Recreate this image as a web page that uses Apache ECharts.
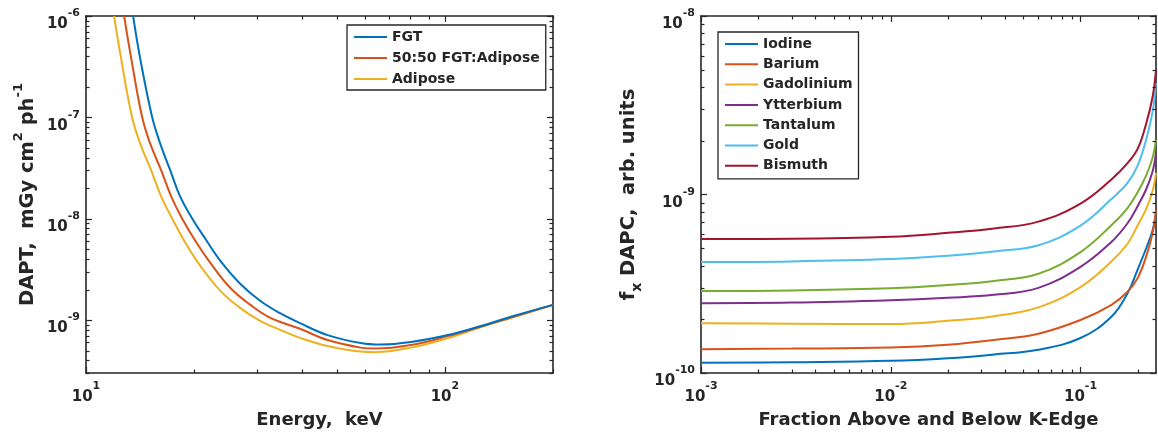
<!DOCTYPE html>
<html><head><meta charset="utf-8">
<script src="https://cdn.jsdelivr.net/npm/echarts@6/dist/echarts.min.js"></script>
<style>html,body{margin:0;padding:0;background:#fff}#c{width:1158px;height:441px}</style>
</head><body><div id="c"></div>
<script>
// ---------- Left panel: DAPT vs energy ----------
const fgtEnergy = [13.53, 14.15, 15.29, 16.09, 17.17, 18.30, 19.78, 21.50, 23.68, 26.93, 30.62, 34.83, 39.61, 47.11, 58.27, 66.26, 80.35, 101.9, 126.1, 155.9, 200];
const fgtDapt   = [1e-6, 3.84e-7, 1e-7, 5.53e-8, 2.99e-8, 1.65e-8, 1e-8, 6.34e-9, 3.84e-9, 2.27e-9, 1.54e-9, 1.16e-9, 9.25e-10, 7.10e-10, 5.92e-10, 5.72e-10, 6.06e-10, 7.10e-10, 8.72e-10, 1.10e-9, 1.41e-9];
const mixEnergy = [12.77, 13.36, 14.34, 15.09, 16.20, 17.28, 18.54, 20.16, 22.20, 25.25, 28.72, 32.66, 39.61, 47.11, 58.27, 64.17, 80.35, 101.9, 126.1, 155.9, 200];
const mixDapt   = [1e-6, 3.84e-7, 1e-7, 5.53e-8, 2.99e-8, 1.65e-8, 1e-8, 6.06e-9, 3.67e-9, 2.07e-9, 1.41e-9, 1.05e-9, 8.15e-10, 6.34e-10, 5.34e-10, 5.22e-10, 5.66e-10, 6.94e-10, 8.62e-10, 1.08e-9, 1.41e-9];
const adiEnergy = [11.97, 12.52, 13.44, 14.15, 15.19, 16.20, 17.39, 18.91, 20.82, 23.68, 26.93, 30.62, 34.83, 39.61, 47.11, 58.27, 64.17, 80.35, 101.9, 126.1, 155.9, 200];
const adiDapt   = [1e-6, 3.84e-7, 1e-7, 5.53e-8, 2.99e-8, 1.65e-8, 1e-8, 5.79e-9, 3.42e-9, 1.94e-9, 1.31e-9, 9.77e-10, 7.96e-10, 6.63e-10, 5.53e-10, 4.88e-10, 4.82e-10, 5.34e-10, 6.63e-10, 8.52e-10, 1.07e-9, 1.41e-9];
const leftNames = ['FGT', '50:50 FGT:Adipose', 'Adipose'];

// ---------- Right panel: f_x DAPC vs fraction ----------
const fraction   = [0.001, 0.003, 0.01, 0.02, 0.035, 0.06, 0.1, 0.145, 0.177, 0.2, 0.222, 0.24, 0.25];
const iodine     = [1.14e-10, 1.15e-10, 1.17e-10, 1.21e-10, 1.27e-10, 1.35e-10, 1.57e-10, 2.06e-10, 2.8e-10, 3.8e-10, 5.0e-10, 6.3e-10, 7.9e-10];
const barium     = [1.36e-10, 1.37e-10, 1.39e-10, 1.44e-10, 1.53e-10, 1.66e-10, 1.98e-10, 2.4e-10, 2.85e-10, 3.4e-10, 4.5e-10, 6.1e-10, 8.2e-10];
const gadolinium = [1.9e-10, 1.89e-10, 1.88e-10, 1.96e-10, 2.08e-10, 2.33e-10, 3.03e-10, 4.2e-10, 5.3e-10, 6.7e-10, 8.3e-10, 1.05e-9, 1.32e-9];
const ytterbium  = [2.46e-10, 2.48e-10, 2.56e-10, 2.64e-10, 2.74e-10, 3.0e-10, 3.93e-10, 5.4e-10, 6.9e-10, 8.6e-10, 1.07e-9, 1.35e-9, 1.71e-9];
const tantalum   = [2.88e-10, 2.9e-10, 2.98e-10, 3.11e-10, 3.28e-10, 3.6e-10, 4.76e-10, 6.7e-10, 8.4e-10, 1.03e-9, 1.28e-9, 1.61e-9, 2.02e-9];
const gold       = [4.19e-10, 4.22e-10, 4.35e-10, 4.54e-10, 4.8e-10, 5.2e-10, 6.7e-10, 9.4e-10, 1.16e-9, 1.45e-9, 2.04e-9, 2.92e-9, 4.2e-9];
const bismuth    = [5.63e-10, 5.65e-10, 5.8e-10, 6.1e-10, 6.45e-10, 7.05e-10, 8.9e-10, 1.21e-9, 1.5e-9, 1.8e-9, 2.5e-9, 3.53e-9, 5.0e-9];
const rightNames = ['Iodine', 'Barium', 'Gadolinium', 'Ytterbium', 'Tantalum', 'Gold', 'Bismuth'];
const rightSeries = [iodine, barium, gadolinium, ytterbium, tantalum, gold, bismuth];

// ---------- Axis ticks ----------
const leftXMajor = [10, 100];
const leftXMinor = [20, 30, 40, 50, 60, 70, 80, 90, 200];
const leftYMajor = [1e-9, 1e-8, 1e-7, 1e-6];
const rightXMajor = [1e-3, 1e-2, 1e-1];
const rightYMajor = [1e-10, 1e-9, 1e-8];
function minorsOf(decades, lo, hi) {
  const out = [];
  decades.forEach(d => { for (let k = 2; k <= 9; k++) { const v = +(k * d).toPrecision(3); if (v >= lo && v <= hi) out.push(v); } });
  return out;
}
const leftYMinor = minorsOf([1e-10, 1e-9, 1e-8, 1e-7], 3e-10, 1e-6);
const rightXMinor = minorsOf([1e-3, 1e-2, 1e-1], 1e-3, 0.25);
const rightYMinor = minorsOf([1e-10, 1e-9], 1e-10, 1e-8);

const colorsL = ['#0072BD', '#D95319', '#EDB120'];
const colorsR = ['#0072BD', '#D95319', '#EDB120', '#7E2F8E', '#77AC30', '#4DBEEE', '#A2142F'];

const FONT = '"DejaVu Sans", sans-serif';
const TXT = '#262626';
const AX = '#262626';

const tickRich = {
  b: { fontFamily: FONT, fontWeight: 'bold', fontSize: 15, color: TXT, lineHeight: 16, padding: [9, 0, 0, 0], verticalAlign: 'top' },
  s: { fontFamily: FONT, fontWeight: 'bold', fontSize: 11, color: TXT, lineHeight: 12, verticalAlign: 'top' }
};
const powFmt = v => '{b|10}{s|' + Math.round(Math.log10(v)) + '}';

function axis(gi, pos, min, max, opts) {
  opts = opts || {};
  const a = {
    type: 'log', logBase: 10, gridIndex: gi, position: pos, min: min, max: max,
    silent: true, splitLine: { show: false }, minorTick: { show: false }, minorSplitLine: { show: false },
    axisLine: { show: true, onZero: false, lineStyle: { color: AX, width: 1.6 } },
    axisTick: { show: false },
    axisLabel: { show: false },
    nameMoveOverlap: false
  };
  if (opts.labels) {
    a.axisLabel = { show: true, customValues: opts.labels, formatter: powFmt, rich: tickRich, margin: opts.margin };
  }
  if (opts.name) {
    a.name = opts.name; a.nameLocation = 'middle'; a.nameGap = opts.nameGap;
    if (opts.nameRotate != null) a.nameRotate = opts.nameRotate;
    a.nameTextStyle = opts.nameTextStyle;
  }
  return a;
}

const titleStyle = { fontFamily: FONT, fontWeight: 'bold', fontSize: 18, color: TXT };
const leftYName = '{t|DAPT,  mGy cm}{p|2}{t| ph}{p|-1}';
const leftYNameStyle = {
  rich: {
    t: { fontFamily: FONT, fontWeight: 'bold', fontSize: 19.5, color: TXT, lineHeight: 22, padding: [6, 0, 0, 0], verticalAlign: 'top' },
    p: { fontFamily: FONT, fontWeight: 'bold', fontSize: 13, color: TXT, lineHeight: 13, verticalAlign: 'top' }
  }
};
const rightYName = '{t|f}{u|x}{t| DAPC,  arb. units}';
const rightYNameStyle = {
  rich: {
    t: { fontFamily: FONT, fontWeight: 'bold', fontSize: 19.5, color: TXT, lineHeight: 22, verticalAlign: 'top' },
    u: { fontFamily: FONT, fontWeight: 'bold', fontSize: 14, color: TXT, lineHeight: 13, padding: [11, 0, 0, 0], verticalAlign: 'top' }
  }
};

const LXMIN = 10, LXMAX = 200, LYMIN = 3e-10, LYMAX = 1e-6;
const RXMIN = 1e-3, RXMAX = 0.25, RYMIN = 1e-10, RYMAX = 1e-8;
const GRIDS = [
  { left: 86, top: 16, width: 467, height: 357 },
  { left: 701, top: 16, width: 455, height: 357 }
];

const xAxes = [
  axis(0, 'bottom', LXMIN, LXMAX, { labels: leftXMajor, margin: 8, name: 'Energy,  keV', nameGap: 38, nameTextStyle: titleStyle }),
  axis(0, 'top', LXMIN, LXMAX),
  axis(1, 'bottom', RXMIN, RXMAX, { labels: rightXMajor, margin: 8, name: 'Fraction Above and Below K-Edge', nameGap: 38, nameTextStyle: titleStyle }),
  axis(1, 'top', RXMIN, RXMAX)
];
const yAxes = [
  axis(0, 'left', LYMIN, LYMAX, { labels: leftYMajor, margin: 6, name: leftYName, nameGap: 52, nameRotate: 90, nameTextStyle: leftYNameStyle }),
  axis(0, 'right', LYMIN, LYMAX),
  axis(1, 'left', RYMIN, RYMAX, { labels: rightYMajor, margin: 6, name: rightYName, nameGap: 60, nameRotate: 90, nameTextStyle: rightYNameStyle }),
  axis(1, 'right', RYMIN, RYMAX)
];

function pairs(xs, ys) { return xs.map((x, i) => [x, ys[i]]); }
const series = [];
[[fgtEnergy, fgtDapt], [mixEnergy, mixDapt], [adiEnergy, adiDapt]].forEach((d, i) => {
  series.push({ name: leftNames[i], type: 'line', xAxisIndex: 0, yAxisIndex: 0, data: pairs(d[0], d[1]),
    symbol: 'none', smooth: 0.4, lineStyle: { color: colorsL[i], width: 2 }, itemStyle: { color: colorsL[i] }, z: 5 - i });
});
rightSeries.forEach((ys, i) => {
  series.push({ name: rightNames[i], type: 'line', xAxisIndex: 2, yAxisIndex: 2, data: pairs(fraction, ys),
    symbol: 'none', smooth: 0.4, lineStyle: { color: colorsR[i], width: 2 }, itemStyle: { color: colorsR[i] } });
});

const legendText = { fontFamily: FONT, fontWeight: 'bold', fontSize: 14, color: TXT };
const legendCommon = { orient: 'vertical', itemWidth: 33, itemHeight: 14, borderColor: '#262626', borderWidth: 1.3,
  backgroundColor: '#fff', textStyle: legendText, selectedMode: false, itemStyle: { opacity: 0, borderWidth: 0 } };
const option = {
  animation: false,
  backgroundColor: '#fff',
  grid: GRIDS.map(g => Object.assign({ containLabel: false, outerBoundsMode: 'none' }, g)),
  xAxis: xAxes,
  yAxis: yAxes,
  legend: [
    Object.assign({ data: leftNames, left: 347, top: 25, itemGap: 7, padding: [5, 6, 4, 6] }, legendCommon),
    Object.assign({ data: rightNames, left: 718, top: 32, itemGap: 6.3, padding: [5, 6, 6, 6] }, legendCommon)
  ],
  series: series
};
const chart = echarts.init(document.getElementById('c'), null, { renderer: 'canvas' });
chart.setOption(option);

// Inward MATLAB-style ticks on all four sides, positioned through the axes' own scales.
const tickEls = [];
function seg(x1, y1, x2, y2) {
  tickEls.push({ type: 'line', silent: true, z: 20, shape: { x1: x1, y1: y1, x2: x2, y2: y2 }, style: { stroke: AX, lineWidth: 1.2 } });
}
function ticksFor(gi, xAxisIndex, yAxisIndex, xMaj, xMin, yMaj, yMin) {
  const g = GRIDS[gi];
  const L = g.left, R = g.left + g.width, T = g.top, B = g.top + g.height;
  const doX = (vals, len) => vals.forEach(v => {
    const px = Math.round(chart.convertToPixel({ xAxisIndex: xAxisIndex }, v)) + 0.5;
    seg(px, B, px, B - len); seg(px, T, px, T + len);
  });
  const doY = (vals, len) => vals.forEach(v => {
    const py = Math.round(chart.convertToPixel({ yAxisIndex: yAxisIndex }, v)) + 0.5;
    seg(L, py, L + len, py); seg(R, py, R - len, py);
  });
  doX(xMaj, 6); doX(xMin, 3.5); doY(yMaj, 6); doY(yMin, 3.5);
}
ticksFor(0, 0, 0, leftXMajor, leftXMinor, leftYMajor, leftYMinor);
ticksFor(1, 2, 2, rightXMajor, rightXMinor, rightYMajor, rightYMinor);
chart.setOption({ graphic: tickEls });
</script>
</body></html>
